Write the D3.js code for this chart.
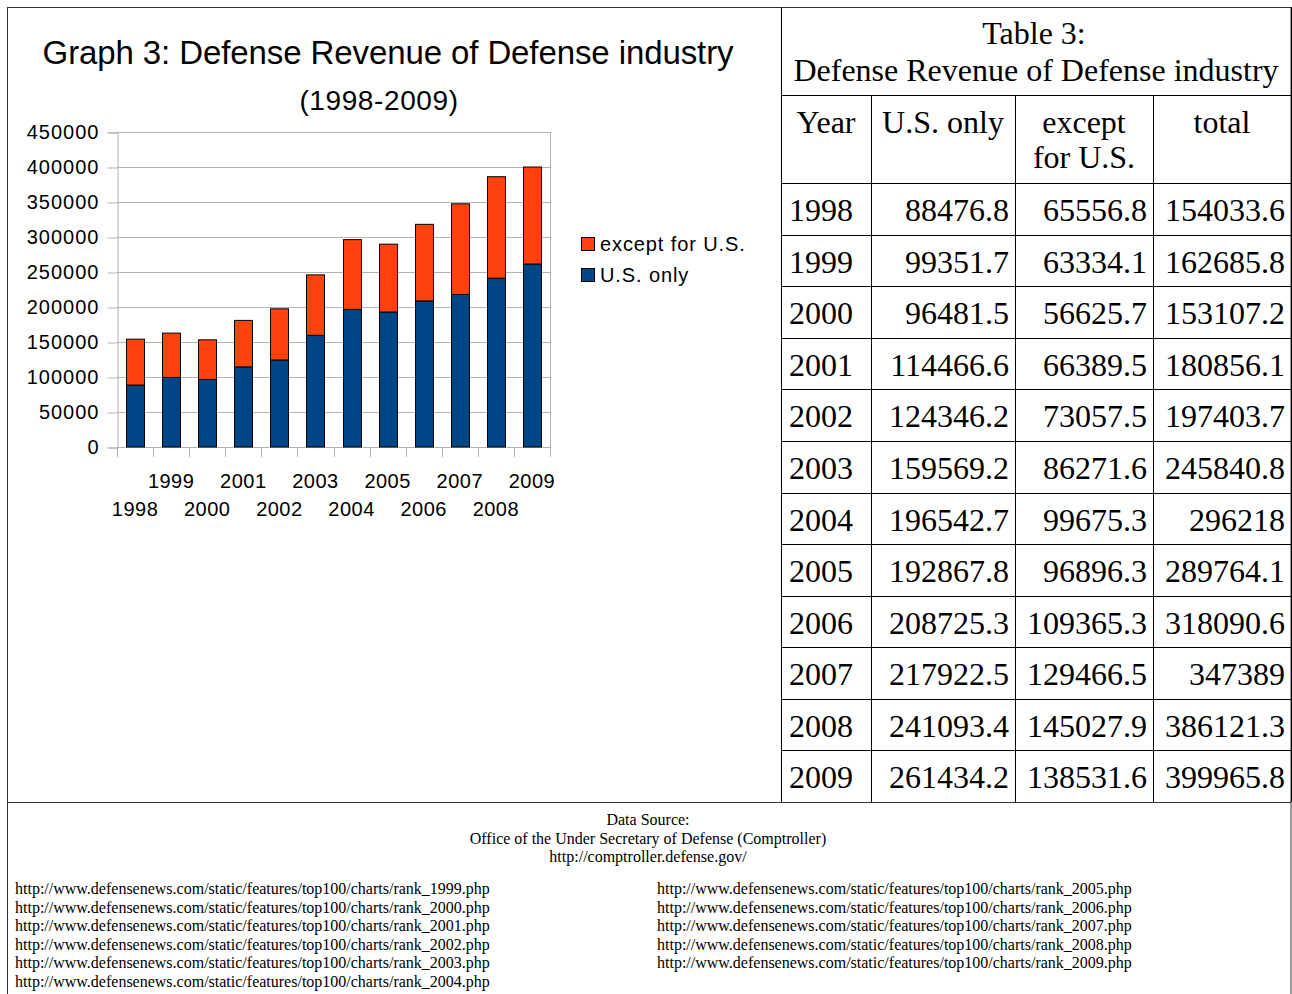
<html>
<head>
<meta charset="utf-8">
<title>Defense Revenue</title>
<style>
body { margin: 0; background: white; }
svg { display: block; }
.sans { font-family: "Liberation Sans", Arial, sans-serif; }
.serif { font-family: "Liberation Serif", "Times New Roman", serif; }
.grid line { stroke: #b3b3b3; stroke-width: 1px; }
.axis .domain { stroke: #b3b3b3; }
.axis .tick line { stroke: #b3b3b3; }
.axis .tick text { fill: black; font-family: "Liberation Sans", Arial, sans-serif; font-size: 20px; letter-spacing: 1px; }
</style>
</head>
<body>
<svg id="page" width="1292" height="994"></svg>
<script src="https://cdn.jsdelivr.net/npm/d3@7"></script>
<script>

var years = [1998, 1999, 2000, 2001, 2002, 2003, 2004, 2005, 2006, 2007, 2008, 2009];
var usOnly = [88476.8, 99351.7, 96481.5, 114466.6, 124346.2, 159569.2, 196542.7, 192867.8, 208725.3, 217922.5, 241093.4, 261434.2];
var exceptUS = [65556.8, 63334.1, 56625.7, 66389.5, 73057.5, 86271.6, 99675.3, 96896.3, 109365.3, 129466.5, 145027.9, 138531.6];
var totals = ["154033.6", "162685.8", "153107.2", "180856.1", "197403.7", "245840.8", "296218", "289764.1", "318090.6", "347389", "386121.3", "399965.8"];
var usLabels = ["88476.8", "99351.7", "96481.5", "114466.6", "124346.2", "159569.2", "196542.7", "192867.8", "208725.3", "217922.5", "241093.4", "261434.2"];
var exLabels = ["65556.8", "63334.1", "56625.7", "66389.5", "73057.5", "86271.6", "99675.3", "96896.3", "109365.3", "129466.5", "145027.9", "138531.6"];
var yTicks = [0, 50000, 100000, 150000, 200000, 250000, 300000, 350000, 400000, 450000];
var seriesNames = ["except for U.S.", "U.S. only"];
var colors = {"U.S. only": "#004586", "except for U.S.": "#ff420e"};
var sources = [
  "http://www.defensenews.com/static/features/top100/charts/rank_1999.php",
  "http://www.defensenews.com/static/features/top100/charts/rank_2000.php",
  "http://www.defensenews.com/static/features/top100/charts/rank_2001.php",
  "http://www.defensenews.com/static/features/top100/charts/rank_2002.php",
  "http://www.defensenews.com/static/features/top100/charts/rank_2003.php",
  "http://www.defensenews.com/static/features/top100/charts/rank_2004.php",
  "http://www.defensenews.com/static/features/top100/charts/rank_2005.php",
  "http://www.defensenews.com/static/features/top100/charts/rank_2006.php",
  "http://www.defensenews.com/static/features/top100/charts/rank_2007.php",
  "http://www.defensenews.com/static/features/top100/charts/rank_2008.php",
  "http://www.defensenews.com/static/features/top100/charts/rank_2009.php"
];

var svg = d3.select("#page");

// outer frame and dividers
svg.append("rect")
    .attr("x", 7.5).attr("y", 7.5)
    .attr("width", 1283.5).attr("height", 1000)
    .attr("fill", "none").attr("stroke", "#333");
svg.append("line")
    .attr("x1", 7).attr("x2", 1291).attr("y1", 802.5).attr("y2", 802.5)
    .attr("stroke", "#333");

// ---- chart ----
var plot = {left: 117, top: 132, width: 433, height: 315};

var x = d3.scaleBand()
    .domain(years)
    .range([plot.left, plot.left + plot.width])
    .paddingInner(0.5).paddingOuter(0.25);
var xBand = d3.scaleBand().domain(years).range([plot.left, plot.left + plot.width]);
var y = d3.scaleLinear().domain([0, 450000]).range([plot.top + plot.height, plot.top]);

svg.append("text").attr("class", "sans")
    .attr("x", 388).attr("y", 64)
    .attr("text-anchor", "middle").attr("font-size", 33).attr("letter-spacing", -0.1)
    .text("Graph 3: Defense Revenue of Defense industry");
svg.append("text").attr("class", "sans")
    .attr("x", 379).attr("y", 110)
    .attr("text-anchor", "middle").attr("font-size", 28).attr("letter-spacing", 0.6)
    .text("(1998-2009)");

// gridlines
svg.append("g").attr("class", "grid")
  .selectAll("line").data(yTicks).enter().append("line")
    .attr("x1", plot.left).attr("x2", plot.left + plot.width)
    .attr("y1", function(d) { return Math.round(y(d)) + 0.5; })
    .attr("y2", function(d) { return Math.round(y(d)) + 0.5; });
svg.append("line")
    .attr("x1", plot.left + plot.width + 0.5).attr("x2", plot.left + plot.width + 0.5)
    .attr("y1", plot.top).attr("y2", plot.top + plot.height)
    .attr("stroke", "#b3b3b3");

var yAxis = d3.axisLeft(y).tickValues(yTicks).tickSize(10).tickPadding(8).tickFormat(d3.format("d"));
svg.append("g").attr("class", "axis")
    .attr("transform", "translate(" + (plot.left + 0.5) + ",0.5)")
    .call(yAxis);

// x axis: ticks at band boundaries, labels staggered
var xg = svg.append("g").attr("class", "axis");
xg.append("line")
    .attr("x1", plot.left).attr("x2", plot.left + plot.width)
    .attr("y1", plot.top + plot.height + 0.5).attr("y2", plot.top + plot.height + 0.5)
    .attr("stroke", "#b3b3b3");
xg.selectAll("line.tk").data(years.concat(["end"])).enter().append("line")
    .attr("class", "tk")
    .attr("x1", function(d) { return (d === "end" ? plot.left + plot.width : Math.round(xBand(d))) + 0.5; })
    .attr("x2", function(d) { return (d === "end" ? plot.left + plot.width : Math.round(xBand(d))) + 0.5; })
    .attr("y1", plot.top + plot.height).attr("y2", plot.top + plot.height + 10)
    .attr("stroke", "#b3b3b3");
xg.selectAll("text").data(years).enter().append("text")
    .attr("class", "sans")
    .attr("x", function(d) { return xBand(d) + xBand.bandwidth() / 2; })
    .attr("y", function(d, i) { return i % 2 === 1 ? 488 : 516; })
    .attr("text-anchor", "middle").attr("font-size", 20).attr("letter-spacing", 0.5)
    .text(function(d) { return d; });

// stacked bars
var rows = years.map(function(yr, i) {
  return {year: yr, "U.S. only": usOnly[i], "except for U.S.": exceptUS[i]};
});
var stack = d3.stack().keys(["U.S. only", "except for U.S."]);
var layers = stack(rows);

svg.append("g").selectAll("g").data(layers).enter().append("g")
    .attr("fill", function(d) { return colors[d.key]; })
  .selectAll("rect").data(function(d) { return d; }).enter().append("rect")
    .attr("x", function(d) { return Math.round(x(d.data.year)) + 0.5; })
    .attr("width", Math.round(x.bandwidth()))
    .attr("y", function(d) { return y(d[1]); })
    .attr("height", function(d) { return y(d[0]) - y(d[1]); })
    .attr("stroke", "#000").attr("stroke-width", 1);

// legend
var legend = svg.append("g").selectAll("g").data(seriesNames).enter().append("g")
    .attr("transform", function(d, i) { return "translate(581," + (237 + i * 31) + ")"; });
legend.append("rect")
    .attr("x", 0.5).attr("y", 0.5).attr("width", 13).attr("height", 13)
    .attr("fill", function(d) { return colors[d]; })
    .attr("stroke", "#000");
legend.append("text").attr("class", "sans")
    .attr("x", 19).attr("y", 14)
    .attr("font-size", 20).attr("letter-spacing", 0.9)
    .text(function(d) { return d; });

// ---- table ----
var colX = [781, 871, 1015, 1153, 1291];
var rowTop = 183, rowH = (802 - 183) / 12;
var t = svg.append("g").attr("class", "serif");

t.append("text").attr("x", 1034).attr("y", 44).attr("text-anchor", "middle").attr("font-size", 32).text("Table 3:");
t.append("text").attr("x", 1036).attr("y", 81).attr("text-anchor", "middle").attr("font-size", 32).text("Defense Revenue of Defense industry");
t.append("line").attr("x1", 781).attr("x2", 1291).attr("y1", 95.5).attr("y2", 95.5).attr("stroke", "#000");

var headers = [["Year"], ["U.S. only"], ["except", "for U.S."], ["total"]];
headers.forEach(function(h, c) {
  h.forEach(function(line, k) {
    t.append("text")
      .attr("x", (colX[c] + colX[c + 1]) / 2)
      .attr("y", 133 + k * 35)
      .attr("text-anchor", "middle").attr("font-size", 32)
      .text(line);
  });
});

// grid of the table
t.selectAll("line.v").data(colX).enter().append("line")
    .attr("x1", function(d) { return d + 0.5; }).attr("x2", function(d) { return d + 0.5; })
    .attr("y1", function(d, i) { return (i === 0 || i === 4) ? 7 : 95; })
    .attr("y2", 802)
    .attr("stroke", "#000");
var hLines = d3.range(0, 12).map(function(i) { return Math.round(rowTop + i * rowH); });
t.selectAll("line.h").data(hLines).enter().append("line")
    .attr("x1", 781).attr("x2", 1291)
    .attr("y1", function(d) { return d + 0.5; }).attr("y2", function(d) { return d + 0.5; })
    .attr("stroke", "#000");

var cells = years.map(function(yr, i) { return [String(yr), usLabels[i], exLabels[i], totals[i]]; });
cells.forEach(function(r, i) {
  var yy = rowTop + i * rowH + 38;
  t.append("text").attr("x", colX[0] + 8).attr("y", yy).attr("font-size", 32).text(r[0]);
  for (var c = 1; c < 4; c++) {
    t.append("text").attr("x", colX[c + 1] - 6).attr("y", yy)
      .attr("text-anchor", "end").attr("font-size", 32).text(r[c]);
  }
});

// ---- sources ----
var s = svg.append("g").attr("class", "serif").attr("font-size", 16);
["Data Source:", "Office of the Under Secretary of Defense (Comptroller)", "http://comptroller.defense.gov/"].forEach(function(line, i) {
  s.append("text").attr("x", 648).attr("y", 825 + i * 18.5).attr("text-anchor", "middle").text(line);
});
s.selectAll("text.url").data(sources).enter().append("text")
    .attr("class", "url")
    .attr("x", function(d, i) { return i < 6 ? 15 : 657; })
    .attr("y", function(d, i) { return 894 + (i < 6 ? i : i - 6) * 18.5; })
    .text(function(d) { return d; });

</script>
</body>
</html>
